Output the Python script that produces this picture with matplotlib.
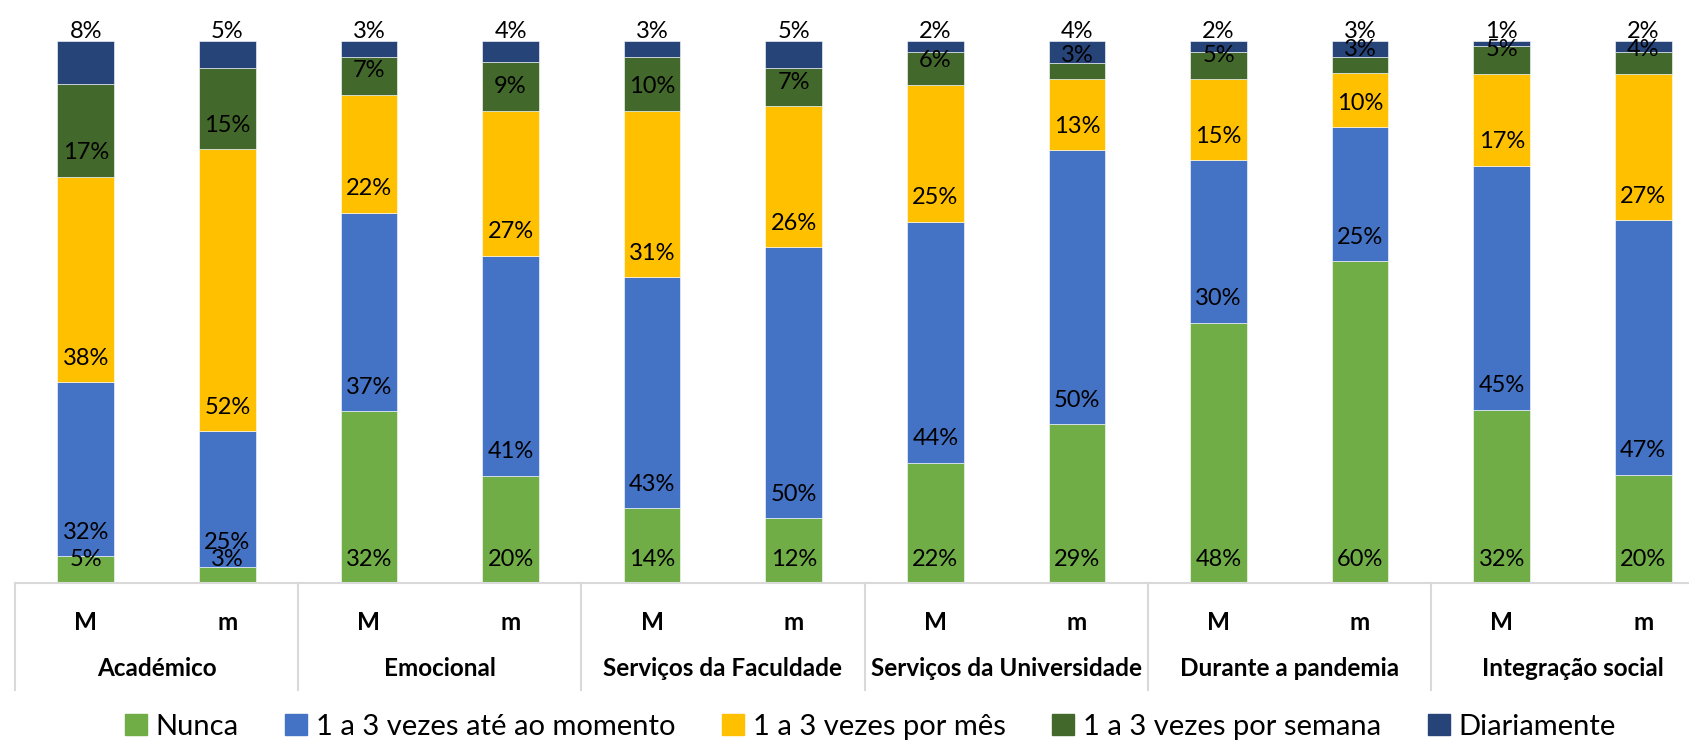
import numpy as np
import matplotlib
matplotlib.use("Agg")
import matplotlib.pyplot as plt
import matplotlib.transforms as mtransforms
from matplotlib.patches import Patch

plt.rcParams['font.family'] = ['Lato', 'DejaVu Sans']

# Data (percentages)
groups = ['Académico', 'Emocional', 'Serviços da Faculdade',
          'Serviços da Universidade', 'Durante a pandemia', 'Integração social']
subs = ['M', 'm']
series = ['Nunca', '1 a 3 vezes até ao momento', '1 a 3 vezes por mês',
          '1 a 3 vezes por semana', 'Diariamente']
nunca = [5, 3, 32, 20, 14, 12, 22, 29, 48, 60, 32, 20]
ate_momento = [32, 25, 37, 41, 43, 50, 44, 50, 30, 25, 45, 47]
por_mes = [38, 52, 22, 27, 31, 26, 25, 13, 15, 10, 17, 27]
por_semana = [17, 15, 7, 9, 10, 7, 6, 3, 5, 3, 5, 4]
diariamente = [8, 5, 3, 4, 3, 5, 2, 4, 2, 3, 1, 2]
colors = ['#70AD47', '#4472C4', '#FFC000', '#43682B', '#264478']

values = np.array([nunca, ate_momento, por_mes, por_semana, diariamente], dtype=float)
shares = values / values.sum(axis=0) * 100  # 100% stacked

fig = plt.figure(figsize=(16.9, 7.4), dpi=100)
ax = fig.add_axes([15 / 1690, 157 / 740, 1675 / 1690, 542 / 740])

x = np.arange(len(nunca))
bottom = np.zeros(len(x))
for i, (name, col) in enumerate(zip(series, colors)):
    ax.bar(x, shares[i], 0.4, bottom=bottom, color=col, label=name,
           edgecolor='white', linewidth=0.4)
    for xi in x:
        y = 101.8 if i == len(series) - 1 else bottom[xi] + 4.4
        ax.text(xi, y, f'{int(values[i, xi])}%', ha='center', va='center',
                fontsize=17, color='black', clip_on=False)
    bottom += shares[i]

ax.set_xlim(-0.5, 11.33)
ax.set_ylim(0, 100)
ax.set_yticks([])
ax.set_xticks([])
for s in ['top', 'right', 'left']:
    ax.spines[s].set_visible(False)
ax.spines['bottom'].set_color('#d9d9d9')
ax.spines['bottom'].set_linewidth(1.5)

trans = mtransforms.blended_transform_factory(ax.transData, ax.transAxes)
for xi in x:
    ax.text(xi, -0.072, subs[xi % 2], transform=trans, ha='center', va='center',
            fontsize=17.5, fontweight='bold')
for g, name in enumerate(groups):
    ax.text(2 * g + 0.5, -0.157, name, transform=trans, ha='center', va='center',
            fontsize=17.5, fontweight='bold')
for k in range(len(groups) + 1):
    ax.plot([2 * k - 0.5] * 2, [0, -0.197], transform=trans, color='#d9d9d9',
            linewidth=1.5, clip_on=False)

handles = [Patch(color=c, label=n) for n, c in zip(series, colors)]
fig.legend(handles=handles, loc='center', bbox_to_anchor=(0.515, 0.018),
           ncol=5, frameon=False, fontsize=21, handlelength=0.75, handleheight=0.75,
           handletextpad=0.3, columnspacing=1.6)

fig.savefig('out.png', dpi=100)
